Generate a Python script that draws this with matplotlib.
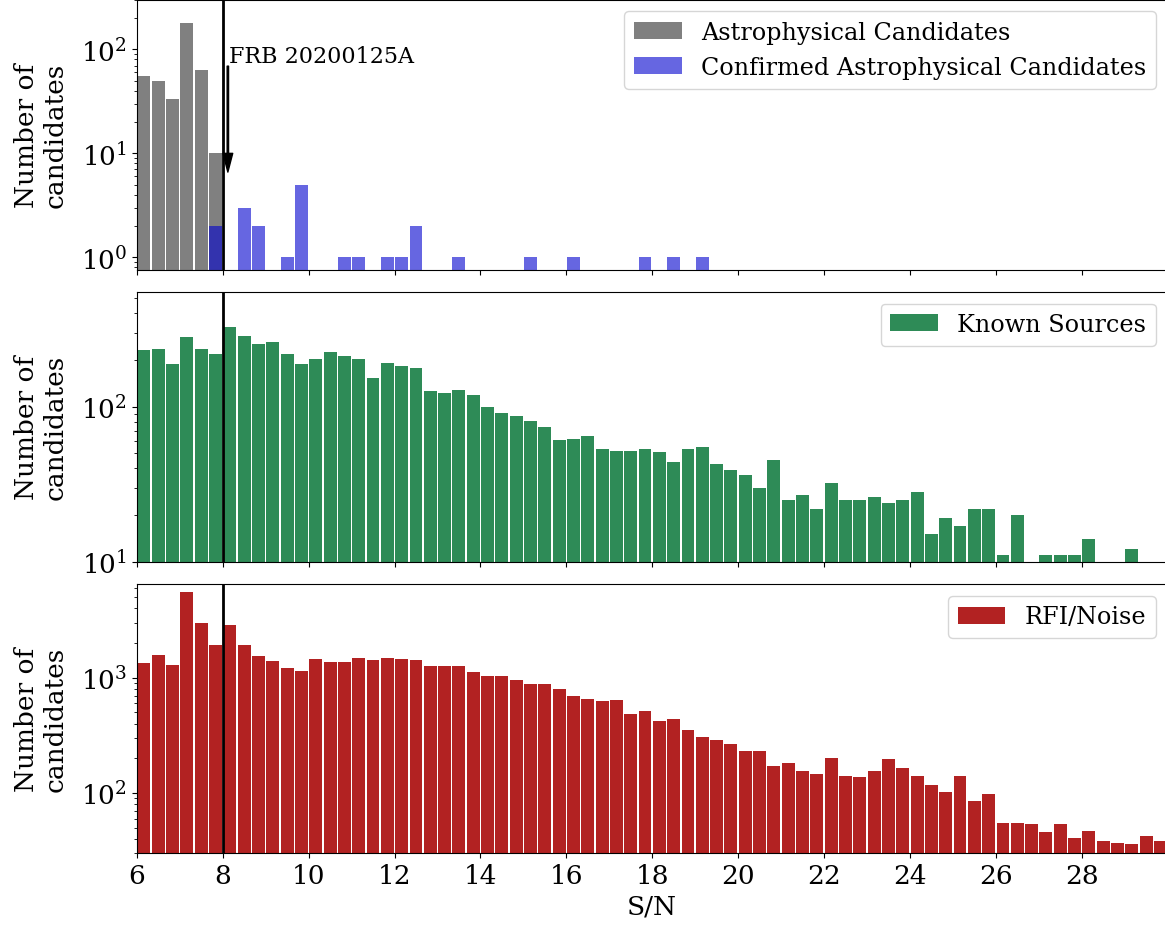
import numpy as np
import matplotlib
matplotlib.use("Agg")
import matplotlib.pyplot as plt

plt.rcParams['font.family'] = 'DejaVu Serif'
plt.rcParams['mathtext.fontset'] = 'dejavuserif'

# S/N bins of width 1/3 from 6 to 30
edges = np.linspace(6, 30, 73)
centres = 0.5 * (edges[:-1] + edges[1:])

# astrophysical candidates (only below S/N 8)
astro = [55, 50, 33, 178, 63, 10] + [0] * 66

# confirmed astrophysical candidates, counts per bin (lower edge -> count)
confirmed_lo = [7 + 2/3, 8 + 1/3, 8 + 2/3, 9 + 1/3, 9 + 2/3, 10 + 2/3, 11.0, 11 + 2/3,
                12.0, 12 + 1/3, 13 + 1/3, 15.0, 16.0, 17 + 2/3, 18 + 1/3, 19.0]
confirmed_n = [2, 3, 2, 1, 5, 1, 1, 1, 1, 2, 1, 1, 1, 1, 1, 1]

known = [232, 236, 188, 282, 236, 219,
         327, 286, 254, 261, 219, 188,
         203, 225, 212, 203, 153, 191,
         183, 178, 126, 122, 128, 119,
         100, 91, 87, 81, 74, 61,
         62, 65, 53, 52, 52, 53,
         51, 44, 53, 55, 43, 39,
         36, 30, 45, 25, 27, 22,
         32, 25, 25, 26, 24, 25,
         28, 15, 19, 17, 22, 22,
         11, 20, 0, 11, 11, 11,
         14, 0, 0, 12, 0, 0]

rfi = [1341, 1574, 1289, 5530, 2980, 1920,
       2863, 1920, 1542, 1396, 1214, 1143,
       1452, 1368, 1368, 1482, 1424, 1482,
       1452, 1424, 1263, 1263, 1263, 1120,
       1035, 1035, 955, 881, 881, 798,
       694, 653, 628, 640, 484, 514,
       421, 438, 352, 306, 288, 266,
       231, 231, 171, 182, 155, 146,
       201, 140, 138, 155, 197, 165,
       140, 117, 102, 140, 85, 98,
       55, 55, 54, 46, 54, 41,
       47, 38, 37, 36, 42, 38]

conf = np.zeros(72)
for lo, n in zip(confirmed_lo, confirmed_n):
    conf[int(round((lo - 6) * 3))] = n

FS = 19
fig = plt.figure(figsize=(11.65, 9.28), dpi=100)
W = 1165.0
H = 928.0
left = 136.8 / W
width = 1030.8 / W
ax1 = fig.add_axes([left, (H - 270.7) / H, width, 270.2 / H])
ax2 = fig.add_axes([left, (H - 562.7) / H, width, 270.0 / H])
ax3 = fig.add_axes([left, (H - 854.3) / H, width, 269.3 / H])

ax1.hist(centres, bins=edges, weights=astro, rwidth=0.9, color='gray',
         log=True, label='Astrophysical Candidates')
ax1.hist(centres, bins=edges, weights=conf, rwidth=0.9, color='mediumblue', alpha=0.6,
         log=True, label='Confirmed Astrophysical Candidates')
ax1.set_ylim(0.76, 302)

# FRB marker
ax1.annotate('', xy=(8.12, 6.6), xytext=(8.12, 69),
             arrowprops=dict(facecolor='black', edgecolor='black', width=1.0,
                             headwidth=7, headlength=13.5, shrink=0))
ax1.text(8.14, 75, 'FRB 20200125A', fontsize=16, ha='left', va='baseline')

ax2.hist(centres, bins=edges, weights=known, rwidth=0.9, color='seagreen',
         log=True, label='Known Sources')
ax2.set_ylim(10, 552)

ax3.hist(centres, bins=edges, weights=rfi, rwidth=0.9, color='firebrick',
         log=True, label='RFI/Noise')
ax3.set_ylim(30, 6500)

for ax in (ax1, ax2, ax3):
    ax.axvline(8, color='black', lw=2)
    ax.set_xlim(6, 30)
    ax.set_xticks(np.arange(6, 29, 2))
    ax.tick_params(labelsize=FS)
    ax.set_ylabel('Number of\ncandidates', fontsize=FS)
    ax.yaxis.set_label_coords(-0.067, 0.5)
    ax.legend(loc='upper right', fontsize=17.2)

ax1.tick_params(labelbottom=False)
ax2.tick_params(labelbottom=False)
ax3.set_xlabel('S/N', fontsize=FS)

fig.savefig('out.png', dpi=100)
